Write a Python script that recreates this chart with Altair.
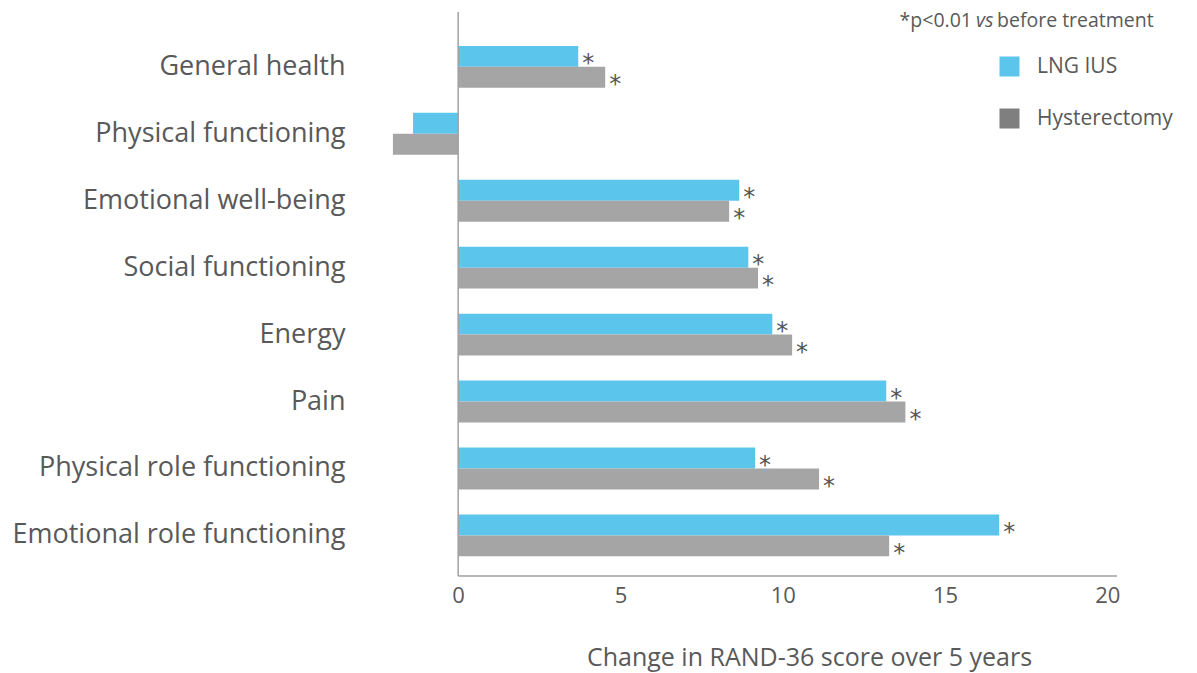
import altair as alt
import pandas as pd

categories = ["General health", "Physical functioning", "Emotional well-being",
              "Social functioning", "Energy", "Pain",
              "Physical role functioning", "Emotional role functioning"]
groups = ["LNG IUS", "Hysterectomy"]
lng_ius = [3.70, -1.39, 8.66, 8.94, 9.68, 13.19, 9.15, 16.67]
hysterectomy = [4.53, -2.01, 8.35, 9.24, 10.29, 13.78, 11.12, 13.28]
lng_star = [True, False, True, True, True, True, True, True]
hyst_star = [True, False, True, True, True, True, True, True]
x_ticks = [0, 5, 10, 15, 20]
x_domain = [-2.1, 20.3]
note_parts = ["*p<0.01", "vs", "before treatment"]
axis_title = "Change in RAND-36 score over 5 years"

rows = []
for c, v, s in zip(categories, lng_ius, lng_star):
    rows.append({"category": c, "group": groups[0], "value": v, "star": "*" if s else ""})
for c, v, s in zip(categories, hysterectomy, hyst_star):
    rows.append({"category": c, "group": groups[1], "value": v, "star": "*" if s else ""})
df = pd.DataFrame(rows)
df_star = df[df["star"] != ""]

FONT = "Open Sans"
TXT = "#595959"
AX = "#A0A0A0"
W, H = 727, 564

y_enc = alt.Y("category:N", sort=categories,
              scale=alt.Scale(paddingInner=0.375, paddingOuter=0.4, align=0.633),
              axis=alt.Axis(title=None, domain=False, ticks=False, labelFont=FONT,
                            labelFontSize=27, labelColor=TXT, labelPadding=45,
                            labelLimit=500))
x_enc = alt.X("value:Q", scale=alt.Scale(domain=x_domain, nice=False, zero=False),
              axis=alt.Axis(title=axis_title, values=x_ticks, domain=False, ticks=False,
                            grid=False, labelFont=FONT, labelFontSize=22, labelColor=TXT,
                            labelPadding=9, titleFont=FONT, titleFontSize=25,
                            titleFontWeight="normal", titleColor=TXT,
                            titleX=419, titleY=81, titleAlign="center",
                            titleBaseline="middle"))
yoff = alt.YOffset("group:N", sort=groups, scale=alt.Scale(paddingInner=0, paddingOuter=0))

bars = alt.Chart(df).mark_bar().encode(
    y=y_enc, x=x_enc, yOffset=yoff,
    color=alt.Color("group:N", sort=groups,
                    scale=alt.Scale(domain=groups, range=["#5BC5EC", "#A5A5A5"]),
                    legend=None))

stars = alt.Chart(df_star).mark_text(align="left", baseline="alphabetic", dx=4, dy=15,
                                     fontSize=24, color="#555555", font="DejaVu Sans").encode(
    y=y_enc, x=x_enc, yOffset=yoff, text="star:N")

legend_layer = alt.Chart(pd.DataFrame({"group": groups})).mark_square(opacity=0).encode(
    x=alt.value(0), y=alt.value(0),
    color=alt.Color("group:N", sort=groups,
                    scale=alt.Scale(domain=groups, range=["#5BC5EC", "#7F7F7F"]),
                    legend=alt.Legend(title=None, orient="none", legendX=609, legendY=44,
                                      symbolType="square", symbolSize=400, symbolOpacity=1,
                                      symbolStrokeWidth=0, labelFont=FONT,
                                      labelFontSize=21, labelColor=TXT, labelOffset=17,
                                      rowPadding=30, padding=0)))

vrule = alt.Chart(pd.DataFrame({"value": [0]})).mark_rule(color=AX, strokeWidth=1.5).encode(
    x=x_enc, y=alt.value(0), y2=alt.value(H))
hrule = alt.Chart(pd.DataFrame({"value": [0], "value2": [x_domain[1]]})).mark_rule(
    color=AX, strokeWidth=1.5).encode(x=x_enc, x2="value2:Q", y=alt.value(H))

NY = 15
NS = 19.5
n1 = alt.Chart(pd.DataFrame({"t": [note_parts[0]]})).mark_text(
    align="right", baseline="alphabetic", fontSize=NS, font=FONT, color=TXT).encode(
    text="t:N", x=alt.value(582), y=alt.value(NY))
n2 = alt.Chart(pd.DataFrame({"t": [note_parts[1]]})).mark_text(
    align="left", baseline="alphabetic", fontSize=NS, font=FONT, color=TXT,
    fontStyle="italic").encode(text="t:N", x=alt.value(586), y=alt.value(NY))
n3 = alt.Chart(pd.DataFrame({"t": [note_parts[2]]})).mark_text(
    align="left", baseline="alphabetic", fontSize=NS, font=FONT, color=TXT).encode(
    text="t:N", x=alt.value(607), y=alt.value(NY))

chart = alt.layer(bars, stars, vrule, hrule, legend_layer, n1, n2, n3).resolve_scale(
    color="independent").properties(
    width=W, height=H,
    padding={"left": 382, "top": 4, "right": 72, "bottom": 97},
    autosize=alt.AutoSizeParams(type="none")).configure_view(stroke=None)

chart.save("out.html", embed_options={"renderer": "svg", "actions": False})
